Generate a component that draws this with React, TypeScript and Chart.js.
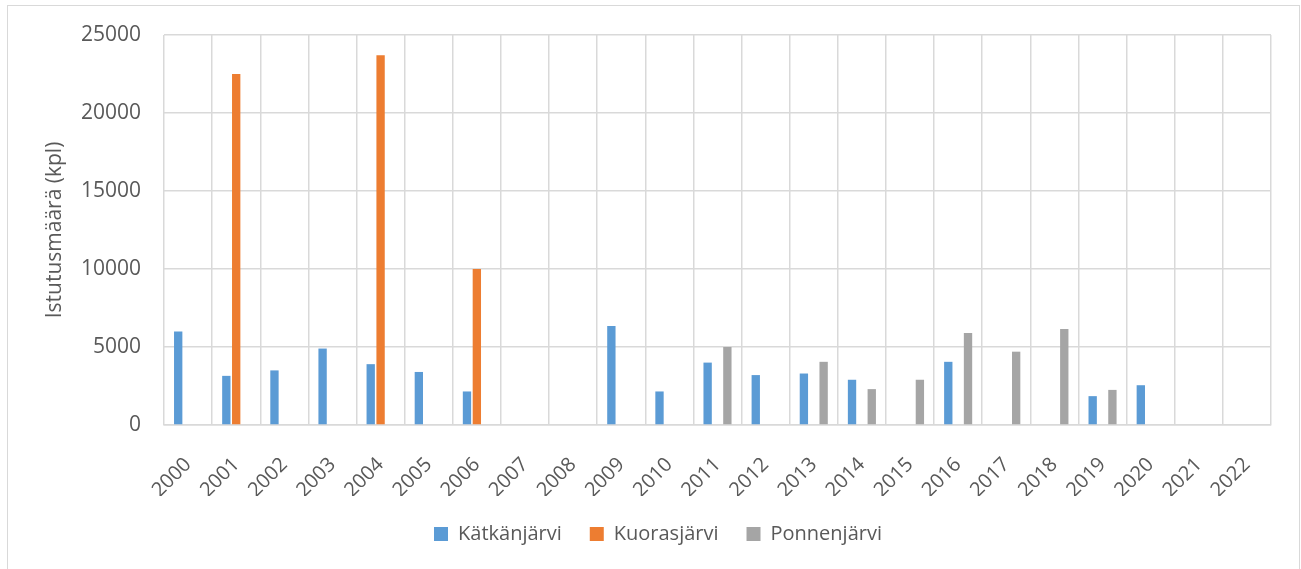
import React, { useEffect, useRef } from "react";
import { Chart, registerables } from "chart.js";

Chart.register(...registerables);

const years = ["2000","2001","2002","2003","2004","2005","2006","2007","2008","2009","2010","2011","2012","2013","2014","2015","2016","2017","2018","2019","2020","2021","2022"];
const katkanjarvi = [6000, 3150, 3500, 4900, 3900, 3400, 2150, null, null, 6350, 2150, 4000, 3200, 3300, 2900, null, 4050, null, null, 1850, 2550, null, null];
const kuorasjarvi = [null, 22500, null, null, 23700, null, 10000, null, null, null, null, null, null, null, null, null, null, null, null, null, null, null, null];
const ponnenjarvi = [null, null, null, null, null, null, null, null, null, null, null, 5000, null, 4050, 2300, 2900, 5900, 4700, 6150, 2250, null, null, null];
const yTicks = [0, 5000, 10000, 15000, 20000, 25000];

const FONT = "'Open Sans', 'Noto Sans', sans-serif";
const TXT = "#595959";
const GRID = "#d9d9d9";

export default function App() {
  const ref = useRef<HTMLCanvasElement>(null);
  useEffect(() => {
    const ctx = ref.current!;
    const chart = new Chart(ctx, {
      type: "bar",
      data: {
        labels: years,
        datasets: [
          { label: "Kätkänjärvi", data: katkanjarvi, backgroundColor: "#5b9bd5" },
          { label: "Kuorasjärvi", data: kuorasjarvi, backgroundColor: "#ed7d31" },
          { label: "Ponnenjärvi", data: ponnenjarvi, backgroundColor: "#a5a5a5" },
        ],
      },
      options: {
        animation: false,
        responsive: false,
        maintainAspectRatio: false,
        datasets: { bar: { categoryPercentage: 0.615, barPercentage: 0.845, skipNull: false } },
        layout: { padding: { left: 9, right: 0, top: 29, bottom: 12 } },
        plugins: {
          tooltip: { enabled: false },
          legend: {
            position: "bottom",
            labels: {
              color: TXT,
              font: { family: FONT, size: 20 },
              boxWidth: 14,
              boxHeight: 14,
              padding: 28,
            },
          },
        },
        scales: {
          x: {
            offset: true,
            grid: { color: GRID, lineWidth: 1.5, offset: true, drawTicks: false },
            border: { color: GRID, width: 1.5 },
            ticks: {
              color: TXT,
              font: { family: FONT, size: 20 },
              minRotation: 45,
              maxRotation: 45,
              padding: 28,
              autoSkip: false,
            },
            afterFit: (s: any) => {
              s.height = 71;
              s.paddingRight = 28;
            },
          },
          y: {
            min: 0,
            max: 25000,
            afterBuildTicks: (s: any) => { s.ticks = yTicks.map((v) => ({ value: v })); },
            grid: { color: GRID, lineWidth: 1.5, drawTicks: false },
            border: { display: false },
            ticks: {
              color: TXT,
              font: { family: FONT, size: 21 },
              padding: 23,
              callback: (v: any) => String(v),
            },
            title: {
              display: true,
              text: "Istutusmäärä (kpl)",
              color: TXT,
              font: { family: FONT, size: 21 },
              padding: { top: 25, bottom: 0 },
            },
            afterFit: (s: any) => {
              s.width = 147;
              s.paddingTop = 0;
              s.paddingBottom = 0;
            },
          },
        },
      },
    });
    return () => chart.destroy();
  }, []);
  return (
    <div
      style={{
        position: "absolute",
        left: 7,
        top: 5,
        width: 1293,
        height: 566,
        border: "1px solid #d9d9d9",
        boxSizing: "border-box",
        background: "#fff",
      }}
    >
      <canvas ref={ref} width={1291} height={560} style={{ display: "block" }} />
    </div>
  );
}
